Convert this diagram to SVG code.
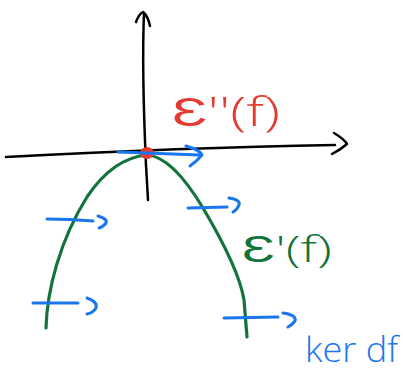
<svg xmlns="http://www.w3.org/2000/svg" width="403" height="374" viewBox="0 0 403 374">
<style>
.ax{fill:none;stroke:#000;stroke-width:2.5;stroke-linecap:round;stroke-linejoin:round}
.bl{fill:none;stroke:#1a76ee;stroke-width:3;stroke-linecap:round;stroke-linejoin:round}
.gr{fill:none;stroke:#13743a;stroke-width:3.2;stroke-linecap:round;stroke-linejoin:round}
.lbl{font-family:"Open Sans","Liberation Sans","DejaVu Sans",sans-serif;font-weight:300}
</style>
<rect width="403" height="374" fill="#fff"/>
<g id="connectors">
  <path class="ax" d="M146,165 C144,120 142,60 144,13"/>
  <path class="ax" d="M146,165 L148,200" stroke-width="1.3"/>
  <path class="ax" d="M136,22 Q139,14 143,12 Q148,16 150,26"/>
  <path class="ax" d="M6,157 C100,152 220,147 335,145"/>
  <path class="ax" d="M334,133 Q344,139 347,144 Q340,150 332,154"/>
</g>
<g id="curve">
  <path class="gr" d="M46,328 C47,290 60,240 87,197 C105,170 125,157 147,155 C165,156 185,178 203,208 C222,240 240,275 244,300 L247,337"/>
</g>
<g id="point">
  <ellipse cx="147" cy="153" rx="7" ry="6" fill="#e53a2f"/>
</g>
<g id="tangents">
  <path class="bl" d="M118,152 L200,155"/>
  <path class="bl" d="M186,146 Q200,150 202,155 Q196,162 190,166"/>
  <path class="bl" d="M47,219 Q70,219 93,221"/>
  <path class="bl" d="M98,216 Q108,219 106,223 Q103,227 99,228"/>
  <path class="bl" d="M33,303 L78,303"/>
  <path class="bl" d="M87,298 Q98,302 96,308 Q93,313 87,314"/>
  <path class="bl" d="M188,208 L227,207"/>
  <path class="bl" d="M229,198 Q241,200 239,205 Q237,210 233,212"/>
  <path class="bl" d="M224,318 L278,317"/>
  <path class="bl" d="M283,313 Q297,315 295,321 Q292,325 288,327"/>
</g>
<g id="label-second">
  <text class="lbl" x="172" y="126" font-size="40" fill="#e53a2f" textLength="108" lengthAdjust="spacingAndGlyphs">Ɛ''(f)</text>
</g>
<g id="label-first">
  <text class="lbl" x="242" y="262" font-size="36" fill="#13743a" textLength="90" lengthAdjust="spacingAndGlyphs">Ɛ'(f)</text>
</g>
<g id="label-ker">
  <text class="lbl" x="305" y="362" font-size="34" fill="#1a76ee" textLength="93" lengthAdjust="spacingAndGlyphs">ker df</text>
</g>
</svg>
